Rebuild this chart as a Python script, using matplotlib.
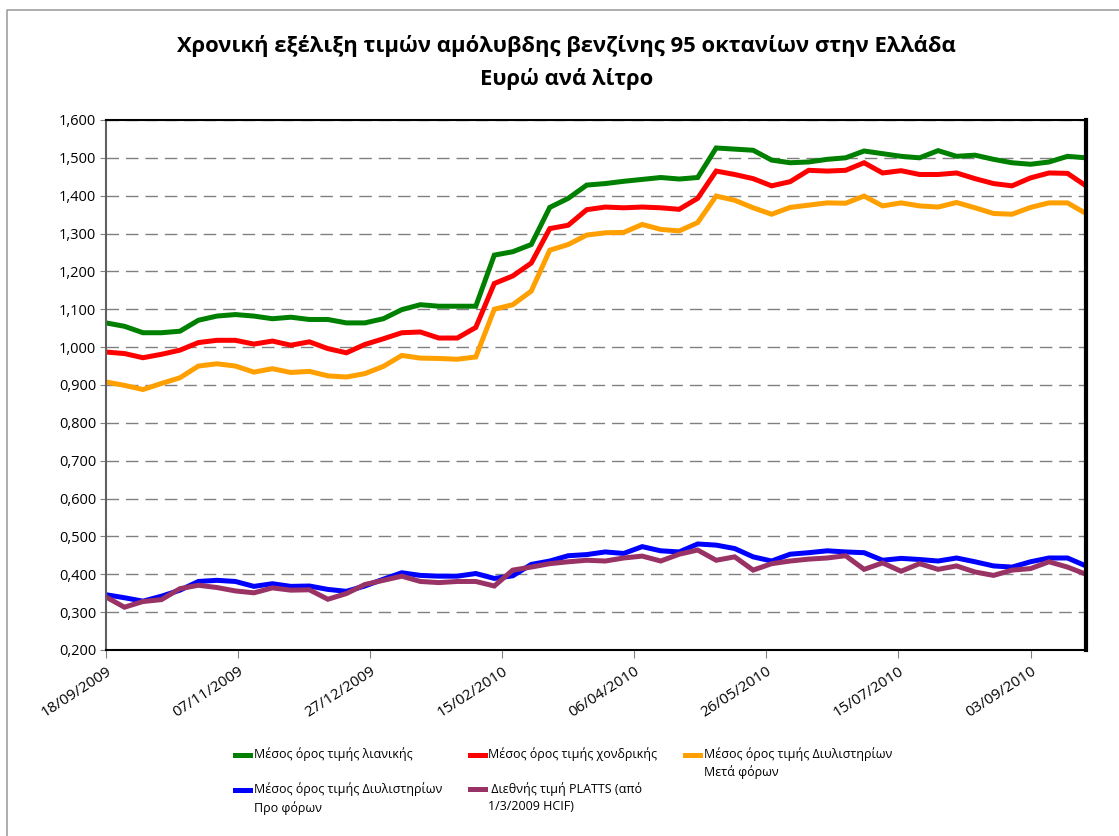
import numpy as np
import pandas as pd
import matplotlib
matplotlib.use("Agg")
import matplotlib.pyplot as plt
from matplotlib.ticker import FuncFormatter, MultipleLocator
from matplotlib.lines import Line2D
from matplotlib.legend_handler import HandlerLine2D

plt.rcParams['font.family'] = ['Open Sans', 'DejaVu Sans']

# weekly observations, 18/09/2009 .. 24/09/2010
dates = pd.date_range("2009-09-18", periods=54, freq="7D")

retail = [1.064, 1.055, 1.038, 1.038, 1.042, 1.071, 1.082, 1.086, 1.082, 1.075,
          1.079, 1.073, 1.073, 1.064, 1.064, 1.075, 1.099, 1.112, 1.108, 1.108,
          1.108, 1.243, 1.252, 1.271, 1.369, 1.393, 1.428, 1.432, 1.438, 1.443,
          1.448, 1.444, 1.448, 1.526, 1.523, 1.520, 1.494, 1.487, 1.489, 1.496,
          1.500, 1.518, 1.511, 1.504, 1.500, 1.519, 1.504, 1.507, 1.496, 1.487,
          1.483, 1.489, 1.504, 1.500]
wholesale = [0.987, 0.983, 0.972, 0.981, 0.992, 1.012, 1.018, 1.018, 1.008, 1.016,
             1.005, 1.014, 0.996, 0.985, 1.007, 1.022, 1.038, 1.040, 1.024, 1.024,
             1.052, 1.168, 1.188, 1.222, 1.313, 1.322, 1.363, 1.370, 1.368, 1.370,
             1.368, 1.364, 1.393, 1.465, 1.456, 1.445, 1.426, 1.437, 1.467, 1.465,
             1.467, 1.487, 1.460, 1.466, 1.456, 1.456, 1.460, 1.445, 1.432, 1.426,
             1.447, 1.460, 1.459, 1.426]
refinery_tax = [0.908, 0.899, 0.888, 0.904, 0.919, 0.950, 0.956, 0.950, 0.934, 0.943,
                0.933, 0.936, 0.924, 0.921, 0.930, 0.949, 0.978, 0.971, 0.970, 0.968,
                0.974, 1.100, 1.112, 1.148, 1.256, 1.271, 1.296, 1.302, 1.303, 1.324,
                1.311, 1.307, 1.329, 1.399, 1.388, 1.368, 1.351, 1.369, 1.375, 1.381,
                1.380, 1.399, 1.373, 1.381, 1.373, 1.370, 1.382, 1.368, 1.353, 1.351,
                1.369, 1.381, 1.381, 1.353]
refinery_pre = [0.346, 0.338, 0.329, 0.342, 0.358, 0.381, 0.384, 0.381, 0.368, 0.375,
                0.368, 0.369, 0.360, 0.355, 0.369, 0.387, 0.404, 0.397, 0.395, 0.395,
                0.402, 0.389, 0.396, 0.426, 0.435, 0.449, 0.452, 0.459, 0.455, 0.473,
                0.462, 0.459, 0.480, 0.477, 0.468, 0.446, 0.435, 0.453, 0.457, 0.462,
                0.459, 0.457, 0.437, 0.442, 0.439, 0.435, 0.443, 0.433, 0.422, 0.419,
                0.433, 0.443, 0.443, 0.422]
platts = [0.340, 0.313, 0.328, 0.333, 0.362, 0.371, 0.365, 0.356, 0.351, 0.364,
          0.358, 0.359, 0.334, 0.349, 0.373, 0.384, 0.395, 0.381, 0.378, 0.381,
          0.381, 0.369, 0.411, 0.419, 0.428, 0.433, 0.437, 0.435, 0.443, 0.448,
          0.435, 0.453, 0.464, 0.437, 0.446, 0.411, 0.428, 0.435, 0.440, 0.443,
          0.449, 0.413, 0.430, 0.408, 0.428, 0.413, 0.422, 0.406, 0.397, 0.411,
          0.415, 0.433, 0.419, 0.400]

labels = ["Μέσος όρος τιμής λιανικής",
          "Μέσος όρος τιμής χονδρικής",
          "Μέσος όρος τιμής Διυλιστηρίων\nΜετά φόρων",
          "Μέσος όρος τιμής Διυλιστηρίων\nΠρο φόρων",
          " Διεθνής τιμή PLATTS (από\n1/3/2009 HCIF)"]
colors = ["#008000", "#FF0000", "#FFA000", "#0000FF", "#993366"]
series = [retail, wholesale, refinery_tax, refinery_pre, platts]


class TopHandler(HandlerLine2D):
    # put the legend key next to the first line of a two-line label
    def create_artists(self, legend, orig_handle, xdescent, ydescent,
                       width, height, fontsize, trans):
        arts = super().create_artists(legend, orig_handle, xdescent, ydescent,
                                      width, height, fontsize, trans)
        for a in arts:
            a.set_ydata(np.asarray(a.get_ydata()) + 0.72 * fontsize)
        return arts


fig = plt.figure(figsize=(11.19, 8.36), dpi=100)
ax = fig.add_axes([0.0947, 0.2225, 0.8758, 0.634])

handles = []
for vals, c, lab in zip(series, colors, labels):
    h, = ax.plot(dates, vals, color=c, lw=3.6, solid_joinstyle="miter", label=lab)
    handles.append(h)

ax.set_ylim(0.2, 1.6)
ax.yaxis.set_major_locator(MultipleLocator(0.1))
ax.yaxis.set_major_formatter(FuncFormatter(lambda v, p: f"{v:.3f}".replace(".", ",")))
ax.set_xlim(dates[0], dates[-1])
ticks = pd.date_range("2009-09-18", "2010-09-24", freq="50D")
ax.set_xticks(ticks)
ax.set_xticklabels([d.strftime("%d/%m/%Y") for d in ticks], rotation=33,
                   ha="right", rotation_mode="anchor", fontsize=11)
ax.tick_params(axis="y", labelsize=10.5, length=4, color="#808080", pad=3)
ax.tick_params(axis="x", length=6, color="#808080", pad=4)

ax.grid(axis="y", color="#808080", lw=1, linestyle=(0, (9, 5)))
ax.set_axisbelow(True)
for s in ["top", "bottom"]:
    ax.spines[s].set_color("black")
    ax.spines[s].set_linewidth(1.5)
ax.spines["right"].set_color("black")
ax.spines["right"].set_linewidth(3)
ax.spines["left"].set_color("#606060")
ax.spines["left"].set_linewidth(1.5)

fig.text(0.506, 0.945, "Χρονική εξέλιξη τιμών αμόλυβδης βενζίνης 95 οκτανίων στην Ελλάδα",
         ha="center", va="center", fontsize=15.8, fontweight="bold")
fig.text(0.506, 0.906, "Ευρώ ανά λίτρο", ha="center", va="center",
         fontsize=15.8, fontweight="bold")

order = [0, 3, 1, 4, 2]
leg_labels = [labels[i] if "\n" in labels[i] else labels[i] + "\n" for i in order]
leg = fig.legend([handles[i] for i in order], leg_labels,
                 loc="upper left", bbox_to_anchor=(0.2, 0.12), ncol=3,
                 frameon=False, fontsize=9, handlelength=1.2, handletextpad=0.3,
                 columnspacing=2.2, labelspacing=0.25,
                 handler_map={Line2D: TopHandler()})
for t in leg.get_texts():
    t.set_linespacing(1.45)

# outer chart frame
fig.add_artist(Line2D([0.006, 0.006, 1.0], [0.0, 0.988, 0.988],
                      transform=fig.transFigure, color="#a0a0a0", lw=1.2))

fig.savefig("out.png", dpi=100)
